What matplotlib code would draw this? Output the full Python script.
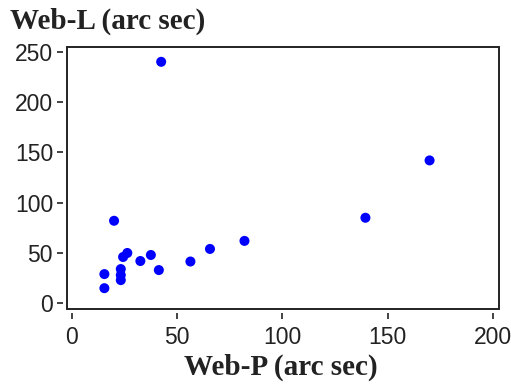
import matplotlib
matplotlib.use("Agg")
import matplotlib.pyplot as plt
from matplotlib.patches import Rectangle

web_p = [42.4, 170, 139.5, 20, 82, 65.6, 56.3, 41.3, 37.5, 32.5, 26.3, 24.3, 23.2, 23.2, 23.2, 15.4, 15.4]
web_l = [240, 142, 85, 82, 62, 54, 41.5, 33, 48, 42, 50, 46, 34, 28, 23, 29, 15]

xticks = [0, 50, 100, 150, 200]
yticks = [0, 50, 100, 150, 200, 250]

fig = plt.figure(figsize=(5.11, 3.88), dpi=100)
ax = fig.add_axes([0.131, 0.2036, 0.9765 - 0.131, 0.8796 - 0.2036])

ax.scatter(web_p, web_l, s=52, color="#0000ff", edgecolors="none", zorder=3)
ax.set_xlim(-2.4, 203)
ax.set_ylim(-5.7, 255)
ax.set_xticks(xticks)
ax.set_yticks(yticks)

for sp in ["left", "bottom"]:
    ax.spines[sp].set_position(("outward", 3))
    ax.spines[sp].set_linewidth(0)
for sp in ["top", "right"]:
    ax.spines[sp].set_visible(False)
ax.add_patch(Rectangle((0, 0), 1, 1, transform=ax.transAxes, fill=False,
                       edgecolor="#222222", linewidth=1.4, zorder=4, clip_on=False))

ax.tick_params(direction="out", length=4, width=1.2, color="#222222",
               labelsize=16.5, labelcolor="#222222")
ax.tick_params(axis="x", pad=5)
ax.tick_params(axis="y", pad=3)
for lab in ax.get_xticklabels() + ax.get_yticklabels():
    lab.set_fontfamily("Liberation Sans")

fig.text(10 / 511, 1 - 29 / 388, "Web-L (arc sec)", fontsize=21, fontweight="bold",
         family="Liberation Serif", color="#222222", ha="left", va="baseline")
fig.text(281 / 511, 1 - 375 / 388, "Web-P (arc sec)", fontsize=21, fontweight="bold",
         family="Liberation Serif", color="#222222", ha="center", va="baseline")

fig.savefig("out.png", dpi=100)
